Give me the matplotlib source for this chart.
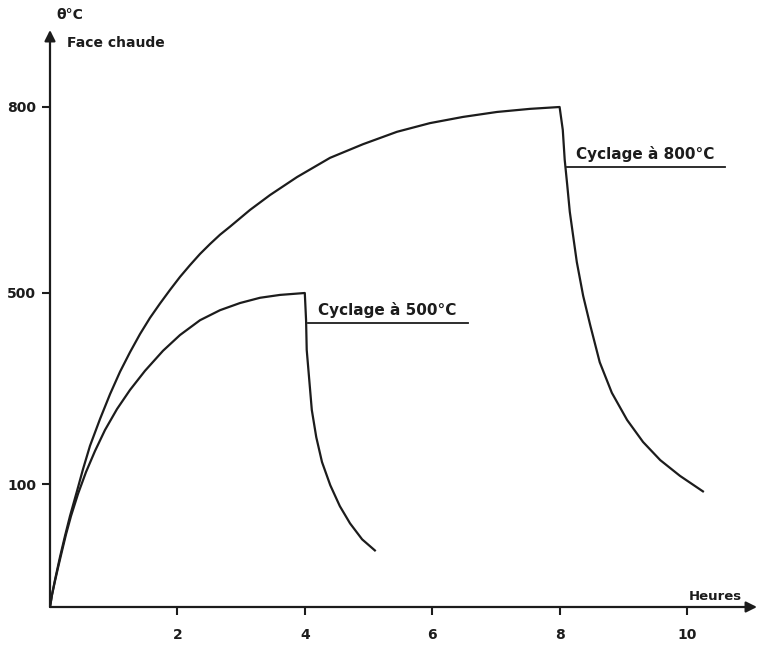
import matplotlib
matplotlib.use("Agg")
import matplotlib.pyplot as plt
import numpy as np

# ── Data ─────────────────────────────────────────────────────────────────────
# Cycle at 800 °C: heating (0 → 8 h) then cooling
hours_800 = [0.0, 0.031, 0.078, 0.157, 0.235, 0.314, 0.424, 0.518, 0.628,
             0.785, 0.942, 1.099, 1.256, 1.413, 1.570, 1.727, 1.884, 2.041,
             2.198, 2.355, 2.512, 2.669, 2.826, 3.140, 3.454, 3.878, 4.396,
             4.914, 5.447, 5.965, 6.484, 7.017, 7.535, 8.0,
             8.05, 8.08, 8.12, 8.16, 8.21, 8.27, 8.37, 8.48, 8.63, 8.82,
             9.06, 9.31, 9.58, 9.89, 10.25]
temp_800 = [0, 9.8, 22, 40.7, 57.7, 74, 94.3, 131, 180,
            236, 288, 335, 376, 414, 448, 478, 505, 526,
            545, 563, 579, 594, 607, 634, 658, 687, 718,
            740, 760, 774, 784, 792, 797, 800,
            763, 715, 674, 631, 594, 550, 494, 433, 355, 291,
            234, 188, 150, 117, 94]

# Cycle at 500 °C: heating (0 → 4 h) then cooling
hours_500 = [0.0, 0.031, 0.078, 0.126, 0.188, 0.251, 0.330, 0.440, 0.565,
             0.706, 0.863, 1.052, 1.256, 1.491, 1.774, 2.041, 2.355, 2.669,
             2.983, 3.297, 3.611, 4.0,
             4.02, 4.03, 4.07, 4.11, 4.18, 4.27, 4.40, 4.55, 4.71, 4.90, 5.10]
temp_500 = [0, 9.8, 21, 32, 45.5, 59, 74, 92, 125,
            169, 213, 257, 297, 337, 379, 412, 443, 464,
            479, 490, 496, 500,
            443, 381, 318, 255, 198, 146, 99, 82, 68, 55, 46]

x_ticks = [2, 4, 6, 8, 10]
y_ticks = [100, 500, 800]

label_500 = "Cyclage à 500°C"
label_800 = "Cyclage à 800°C"

# the temperature axis of the original drawing is not linear
scale_temp = [-100, 0, 100, 500, 800, 1000]
scale_pos = [-123, 0, 123, 314, 500, 624]


def fwd(t):
    return np.interp(t, scale_temp, scale_pos)


def inv(p):
    return np.interp(p, scale_pos, scale_temp)


INK = "#1c1c1c"
W, H = 762, 647

fig = plt.figure(figsize=(W / 100, H / 100), dpi=100)
ax = fig.add_axes([50 / W, 40 / H, 712 / W, 582 / H])
ax.set_yscale("function", functions=(fwd, inv))
ax.set_xlim(0, 712 / 63.7)
ax.set_ylim(0, inv(582))

ax.plot(hours_800, temp_800, color=INK, lw=1.6, solid_joinstyle="round")
ax.plot(hours_500, temp_500, color=INK, lw=1.6, solid_joinstyle="round")

# axes drawn as arrows
for s in ax.spines.values():
    s.set_visible(False)
ax.annotate("", xy=(0, inv(577)), xytext=(0, 0),
            arrowprops=dict(arrowstyle="-|>", color=INK, lw=1.6,
                            mutation_scale=16, shrinkA=0, shrinkB=0))
ax.annotate("", xy=(707 / 63.7, 0), xytext=(0, 0),
            arrowprops=dict(arrowstyle="-|>", color=INK, lw=1.6,
                            mutation_scale=16, shrinkA=0, shrinkB=0))

ax.set_xticks(x_ticks)
ax.set_xticklabels([str(v) for v in x_ticks], fontsize=10, fontweight="bold",
                   color=INK)
ax.set_yticks(y_ticks)
ax.set_yticklabels([str(v) for v in y_ticks], fontsize=10, fontweight="bold",
                   color=INK)
ax.yaxis.set_minor_locator(matplotlib.ticker.NullLocator())
ax.tick_params(axis="x", direction="out", length=6, width=1.5, pad=9,
               color=INK)
ax.tick_params(axis="y", direction="out", length=6, width=1.5, pad=4,
               color=INK)

# cycle annotations with underline
ax.plot([4.05, 6.56], [437, 437], color=INK, lw=1.3)
ax.text(4.21, 447, label_500, fontsize=11, fontweight="bold", color=INK,
        ha="left", va="bottom")
ax.plot([8.11, 10.6], [703, 703], color=INK, lw=1.3)
ax.text(8.26, 711, label_800, fontsize=11, fontweight="bold", color=INK,
        ha="left", va="bottom")

# axis titles
fig.text(70 / W, 1 - 15 / H, "θ°C", fontsize=10, fontweight="bold",
         color=INK, ha="center", va="center")
fig.text(67 / W, 1 - 43 / H, "Face chaude", fontsize=10, fontweight="bold",
         color=INK, ha="left", va="center")
fig.text(742 / W, 1 - 597 / H, "Heures", fontsize=9.5, fontweight="bold",
         color=INK, ha="right", va="center")

fig.savefig("out.png", dpi=100)
